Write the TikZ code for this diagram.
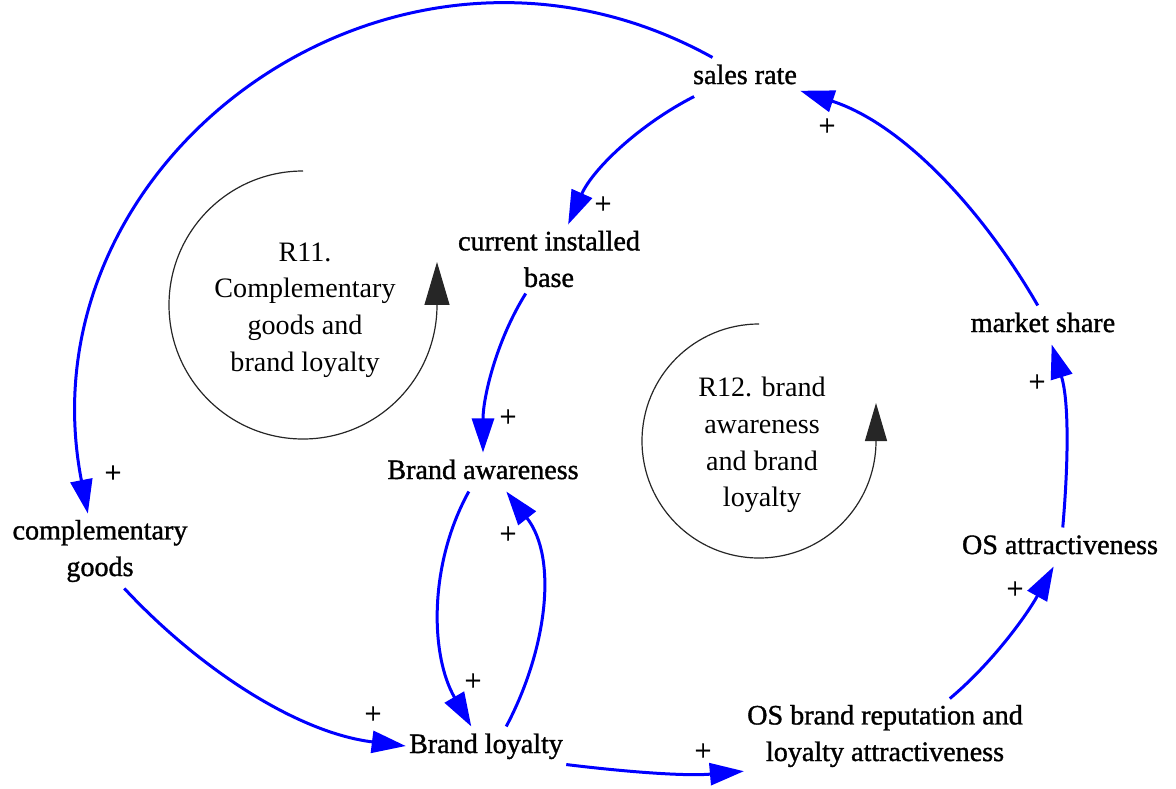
\documentclass[tikz,border=0pt]{standalone}
\usepackage{fontspec}
\setmainfont{Liberation Serif}
\newfontfamily\varfont[FakeBold=1.2]{Liberation Serif}
\newfontfamily\signfont[FakeBold=0.8]{Liberation Serif}
\usetikzlibrary{arrows.meta}
\begin{document}
\begin{tikzpicture}[x=0.02cm,y=0.02cm,
  varbase/.style={font=\varfont\fontsize{16pt}{20.8pt}\selectfont, inner xsep=0.06cm, inner ysep=0.12cm},
  varone/.style={varbase, text height=11.5pt, text depth=3.5pt},
  vartwo/.style={varbase, align=center},
  looplabel/.style={font=\fontsize{16pt}{20.8pt}\selectfont, align=center, inner sep=0pt},
  link/.style={draw=blue, line width=0.06cm, -{Triangle[length=0.68cm,width=0.44cm]}},
  loopline/.style={draw=black!85, line width=0.024cm},
  plus/.style={font=\signfont\fontsize{17pt}{20pt}\selectfont, inner sep=0pt}
]
\useasboundingbox (0,0) rectangle (1176,-788);

% variables
\node[varone] (sr)  at (745,-77)  {sales rate};
\node[vartwo] (cib) at (549,-259) {current installed\\base};
\node[varone] (ms)  at (1043,-325) {market share};
\node[varone] (ba)  at (483,-472) {Brand awareness};
\node[vartwo] (cg)  at (100,-551) {complementary\\goods};
\node[varone] (osa) at (1060,-547) {OS attractiveness};
\node[varone] (bl)  at (486,-746) {Brand loyalty};
\node[vartwo] (osb) at (885,-736) {OS brand reputation and\\loyalty attractiveness};

% loop labels
\node[looplabel] (r11) at (305,-310) {R11.\\Complementary\\goods and\\brand loyalty};
\node[looplabel] (r12) at (762,-445) {R12. brand\\awareness\\and brand\\loyalty};

% loop direction markers
\draw[loopline, -{Triangle[length=0.86cm,width=0.5cm]}]
  (303,-171) arc[start angle=90, end angle=360, radius=134] -- ++(0,43);
\draw[loopline, -{Triangle[length=0.76cm,width=0.44cm]}]
  (759,-324) arc[start angle=90, end angle=360, radius=117] -- ++(0,38);

% causal links
\draw[link] (sr.149) to[out=151, in=101, looseness=1.2] (cg.108);
\draw[link] (sr.201) to[out=207, in=66, looseness=0.87] (cib.61);
\draw[link] (cib.236) to[out=238, in=90, looseness=0.86] (ba.90);
\draw[link] (ba.234) to[out=241, in=120, looseness=0.9] (bl.127);
\draw[link] (bl.44) to[out=62, in=-52, looseness=0.93] (ba.320);
\draw[link] (cg.303) to[out=-47, in=173, looseness=0.87] (bl.180);
\draw[link] (bl.347) to[out=-7, in=185, looseness=0.85] (osb.194);
\draw[link] (osb.30) to[out=40, in=241, looseness=0.85] (osa.252);
\draw[link] (osa.82) to[out=85, in=-73, looseness=0.85] (ms.294);
\draw[link] (ms.105) to[out=120, in=-18, looseness=0.87] (sr.346);

% polarities
\node[plus] (p1)  at (113,-474) {+};
\node[plus] (p2)  at (603,-205) {+};
\node[plus] (p3)  at (508,-418) {+};
\node[plus] (p4)  at (473,-682) {+};
\node[plus] (p5)  at (508,-535) {+};
\node[plus] (p6)  at (373,-715) {+};
\node[plus] (p7)  at (703,-752) {+};
\node[plus] (p8)  at (1015,-590) {+};
\node[plus] (p9)  at (1037,-383) {+};
\node[plus] (p10) at (827,-127) {+};
\end{tikzpicture}
\end{document}
